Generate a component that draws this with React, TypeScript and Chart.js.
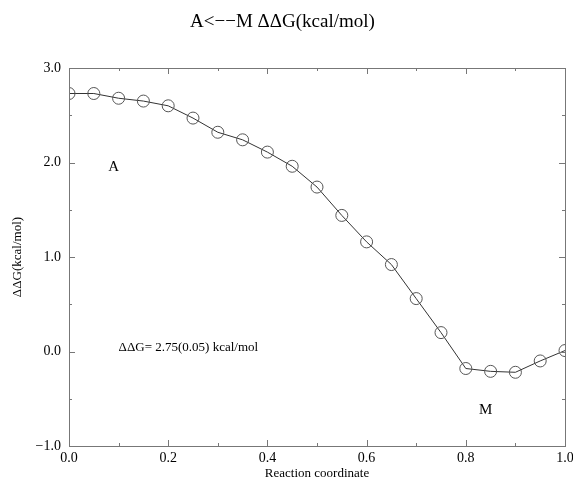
import React, { useEffect, useRef } from "react";
import { Chart, registerables } from "chart.js";

Chart.register(...registerables);

const xValues = [0.0, 0.05, 0.1, 0.15, 0.2, 0.25, 0.3, 0.35, 0.4, 0.45, 0.5, 0.55, 0.6, 0.65, 0.7, 0.75, 0.8, 0.85, 0.9, 0.95, 1.0];
const ddG = [2.73, 2.73, 2.68, 2.65, 2.60, 2.47, 2.32, 2.24, 2.11, 1.96, 1.74, 1.44, 1.16, 0.92, 0.56, 0.20, -0.18, -0.21, -0.22, -0.10, 0.01];
const yMajorTicks = [-1, 0, 1, 2, 3];
const yMinorTicks = [-0.5, 0.5, 1.5, 2.5];
const xMajorTicks = [0, 0.2, 0.4, 0.6, 0.8, 1.0];
const xMinorTicks = [0.1, 0.3, 0.5, 0.7, 0.9];
const annotations = [
  { x: 0.09, y: 1.95, text: "A", align: "center" },
  { x: 0.84, y: -0.62, text: "M", align: "center" },
  { x: 0.1, y: 0.04, text: "ΔΔG= 2.75(0.05) kcal/mol", align: "left" },
];

const FONT = "'Liberation Serif', 'DejaVu Serif', serif";

const framePlugin = {
  id: "frameTicks",
  afterDatasetsDraw(chart: any) {
    const { ctx, chartArea: a, scales } = chart;
    const xs = scales.x;
    const ys = scales.y;
    ctx.save();
    ctx.strokeStyle = "#777";
    ctx.lineWidth = 1;
    ctx.strokeRect(Math.round(a.left) + 0.5, Math.round(a.top) + 0.5, Math.round(a.right - a.left), Math.round(a.bottom - a.top));
    ctx.beginPath();
    const xt = (vals: number[], len: number) => {
      vals.forEach((v) => {
        const px = Math.round(xs.getPixelForValue(v)) + 0.5;
        ctx.moveTo(px, a.bottom);
        ctx.lineTo(px, a.bottom - len);
        ctx.moveTo(px, a.top);
        ctx.lineTo(px, a.top + len);
      });
    };
    const yt = (vals: number[], len: number) => {
      vals.forEach((v) => {
        const py = Math.round(ys.getPixelForValue(v)) + 0.5;
        ctx.moveTo(a.left, py);
        ctx.lineTo(a.left + len, py);
        ctx.moveTo(a.right, py);
        ctx.lineTo(a.right - len, py);
      });
    };
    xt(xMajorTicks, 6);
    xt(xMinorTicks, 3);
    yt(yMajorTicks, 6);
    yt(yMinorTicks, 3);
    ctx.stroke();

    ctx.fillStyle = "#000";
    ctx.textBaseline = "middle";
    annotations.forEach((an) => {
      ctx.font = an.text.length > 2 ? `13px ${FONT}` : `15px ${FONT}`;
      ctx.textAlign = an.align as CanvasTextAlign;
      ctx.fillText(an.text, xs.getPixelForValue(an.x), ys.getPixelForValue(an.y));
    });
    ctx.restore();
  },
};

export default function App() {
  const ref = useRef<HTMLCanvasElement>(null);
  useEffect(() => {
    document.body.style.margin = "0";
    const chart = new Chart(ref.current!, {
      type: "line",
      data: {
        datasets: [
          {
            data: xValues.map((x, i) => ({ x, y: ddG[i] })),
            borderColor: "#333",
            borderWidth: 1,
            pointRadius: 6,
            pointBorderColor: "#555",
            pointBackgroundColor: "rgba(0,0,0,0)",
            pointBorderWidth: 1,
            tension: 0,
          },
        ],
      },
      options: {
        animation: false,
        responsive: false,
        layout: { padding: { left: 0, right: 8, top: 0, bottom: 0 } },
        plugins: {
          legend: { display: false },
          tooltip: { enabled: false },
          title: {
            display: true,
            text: "A<\u2212\u2212M \u0394\u0394G(kcal/mol)",
            color: "#000",
            font: { family: FONT, size: 19, weight: "normal", lineHeight: 1.2 },
            padding: { top: 11, bottom: 34.2 },
          },
        },
        scales: {
          x: {
            type: "linear",
            min: 0,
            max: 1,
            grid: { display: false, drawTicks: false },
            border: { display: false },
            afterBuildTicks: (s: any) => {
              s.ticks = xMajorTicks.map((v) => ({ value: v }));
            },
            afterFit: (s: any) => {
              s.height = 35;
              s.paddingLeft = 0;
              s.paddingRight = 0;
            },
            ticks: {
              color: "#000",
              padding: 4,
              maxRotation: 0,
              font: { family: FONT, size: 14 },
              callback: (v: any) => Number(v).toFixed(1),
            },
            title: {
              display: true,
              text: "Reaction coordinate",
              color: "#000",
              font: { family: FONT, size: 13 },
              padding: { top: 0, bottom: 0 },
            },
          },
          y: {
            type: "linear",
            min: -1,
            max: 3,
            grid: { display: false, drawTicks: false },
            border: { display: false },
            afterBuildTicks: (s: any) => {
              s.ticks = yMajorTicks.map((v) => ({ value: v }));
            },
            afterFit: (s: any) => {
              s.width = 69;
              s.paddingTop = 0;
              s.paddingBottom = 0;
            },
            ticks: {
              color: "#000",
              padding: 8,
              font: { family: FONT, size: 14 },
              callback: (v: any) => Number(v).toFixed(1).replace("-", "\u2212"),
            },
            title: {
              display: true,
              text: "\u0394\u0394G(kcal/mol)",
              color: "#000",
              font: { family: FONT, size: 13 },
              padding: { top: 10, bottom: 0 },
            },
          },
        },
      },
      plugins: [framePlugin],
    });
    return () => chart.destroy();
  }, []);
  return (
    <div style={{ position: "absolute", left: 0, top: 0, width: 573, height: 481 }}>
      <canvas ref={ref} width={573} height={481} style={{ width: 573, height: 481 }} />
    </div>
  );
}
